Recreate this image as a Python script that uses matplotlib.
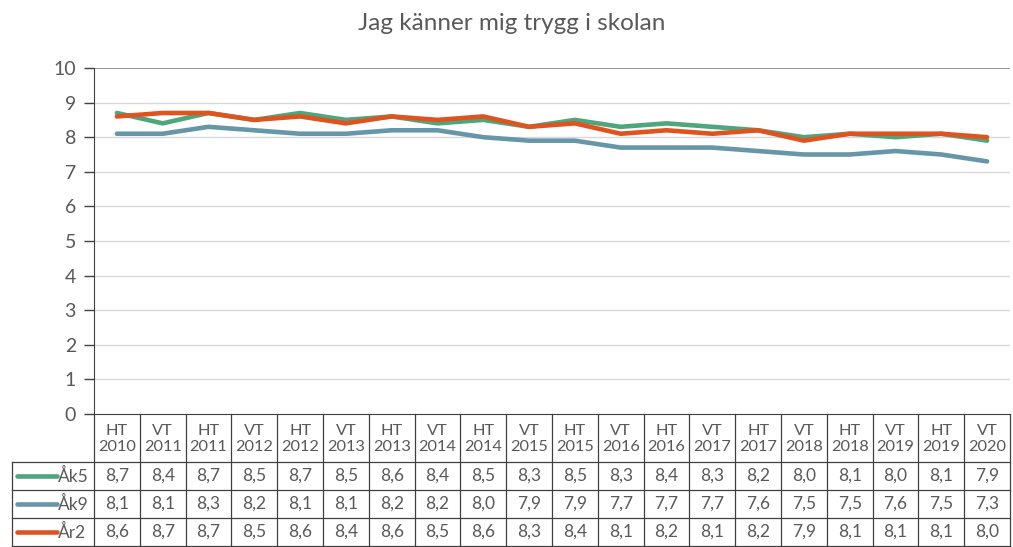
import matplotlib.pyplot as plt
from matplotlib.lines import Line2D
from matplotlib.transforms import blended_transform_factory

plt.rcParams['font.family'] = ['Lato', 'DejaVu Sans']

# data
periods = ["HT\n2010", "VT\n2011", "HT\n2011", "VT\n2012", "HT\n2012", "VT\n2013", "HT\n2013",
           "VT\n2014", "HT\n2014", "VT\n2015", "HT\n2015", "VT\n2016", "HT\n2016", "VT\n2017",
           "HT\n2017", "VT\n2018", "HT\n2018", "VT\n2019", "HT\n2019", "VT\n2020"]
ak5 = [8.7, 8.4, 8.7, 8.5, 8.7, 8.5, 8.6, 8.4, 8.5, 8.3, 8.5, 8.3, 8.4, 8.3, 8.2, 8.0, 8.1, 8.0, 8.1, 7.9]
ak9 = [8.1, 8.1, 8.3, 8.2, 8.1, 8.1, 8.2, 8.2, 8.0, 7.9, 7.9, 7.7, 7.7, 7.7, 7.6, 7.5, 7.5, 7.6, 7.5, 7.3]
ar2 = [8.6, 8.7, 8.7, 8.5, 8.6, 8.4, 8.6, 8.5, 8.6, 8.3, 8.4, 8.1, 8.2, 8.1, 8.2, 7.9, 8.1, 8.1, 8.1, 8.0]
series = [("Åk5", ak5, '#4FA57C'), ("Åk9", ak9, '#6696A8'), ("År2", ar2, '#E0531E')]

TEXT = '#595959'
GRID = '#D9D9D9'
LINE = '#404040'
W, H = 1013, 547

fig = plt.figure(figsize=(W / 100, H / 100), dpi=100)
left, right, top, bottom = 94, 1010, 68, 414
ax = fig.add_axes([left / W, 1 - bottom / H, (right - left) / W, (bottom - top) / H])

x = list(range(len(periods)))
for name, vals, col in series:
    ax.plot(x, vals, color=col, linewidth=3.3, solid_capstyle='round', zorder=3)

ax.set_xlim(-0.5, len(periods) - 0.5)
ax.set_ylim(0, 10)
ax.set_yticks(range(0, 11))
ax.tick_params(axis='y', colors=LINE, labelcolor=TEXT, labelsize=14, length=7, width=1, pad=6)
ax.set_xticks([])
for yv in range(1, 10):
    ax.axhline(yv, color=GRID, linewidth=1, zorder=1)
ax.axhline(10, color='#7F7F7F', linewidth=1.2, zorder=1)
for s in ['top', 'right']:
    ax.spines[s].set_visible(False)
ax.spines['left'].set_color(LINE)
ax.spines['bottom'].set_color(LINE)

fig.text(0.505, 1 - 24 / H, "Jag känner mig trygg i skolan", ha='center', va='center',
         fontsize=17.5, color=TEXT)

# data table under the axis
tr = blended_transform_factory(ax.transData, ax.transAxes)
ah = bottom - top
def yfrac(py):
    return (bottom - py) / ah

hdr_bot = 462
row_edges = [462, 490, 518, 546]

for i in range(len(periods) + 1):
    ax.add_line(Line2D([i - 0.5, i - 0.5], [yfrac(bottom), yfrac(547)], transform=tr,
                       color=LINE, linewidth=0.9, clip_on=False))
for py in row_edges:
    fig.add_artist(Line2D([12 / W, right / W], [1 - py / H, 1 - py / H], color=LINE, linewidth=0.9))
fig.add_artist(Line2D([12 / W, 12 / W], [1 - 462 / H, 0], color=LINE, linewidth=0.9))

for i, p in enumerate(periods):
    ax.text(i, yfrac((bottom + hdr_bot) / 2 + 1), p, transform=tr, ha='center', va='center',
            fontsize=11.8, color=TEXT, linespacing=1.25)

for r, (name, vals, col) in enumerate(series):
    cy = (row_edges[r] + row_edges[r + 1]) / 2
    for i, v in enumerate(vals):
        ax.text(i, yfrac(cy), f"{v:.1f}".replace('.', ','), transform=tr, ha='center',
                va='center', fontsize=12.5, color=TEXT)
    fig.add_artist(Line2D([17 / W, 57 / W], [1 - cy / H, 1 - cy / H], color=col, linewidth=3.3,
                          solid_capstyle='round'))
    fig.text(58 / W, 1 - cy / H, name, ha='left', va='center', fontsize=12.5, color=TEXT)

fig.savefig("out.png", dpi=100)
